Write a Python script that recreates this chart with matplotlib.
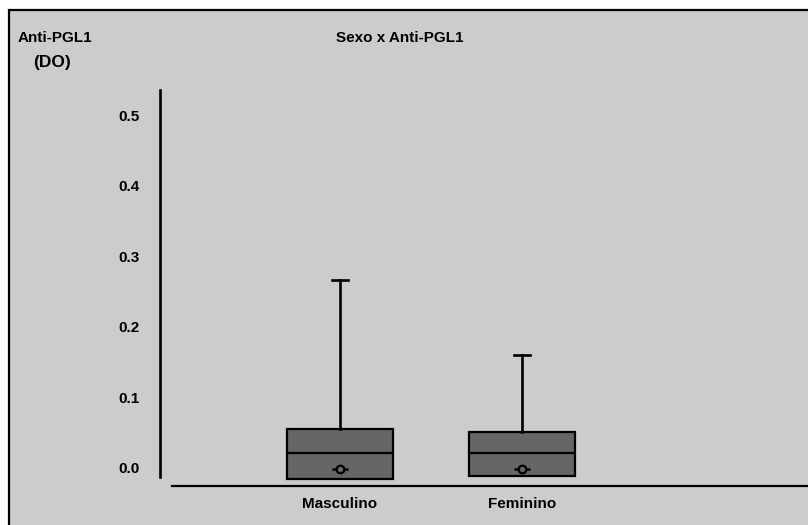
import matplotlib.pyplot as plt
from matplotlib.patches import Rectangle

# --------------------------------------------------
# DATA
# --------------------------------------------------
categories = ["Masculino", "Feminino"]
q1_vals = [-0.0168, -0.0121]
median_vals = [0.0202, 0.0210]
q3_vals = [0.0547, 0.0500]
whishi_vals = [0.266, 0.160]
mean_vals = [-0.002, -0.002]
y_ticks = [0.0, 0.1, 0.2, 0.3, 0.4, 0.5]
y_ticklabels = ["0.0", "0.1", "0.2", "0.3", "0.4", "0.5"]

BG = "#cccccc"
BOX = "#666666"
FONT = "Liberation Sans"
FS = 11

# --------------------------------------------------
# FIGURE
# --------------------------------------------------
W, H = 808, 525
fig = plt.figure(figsize=(W / 100, H / 100), dpi=100, facecolor="white")

# grey panel with black top/left border (image is cropped on right/bottom)
fig.patches.append(Rectangle((9 / W, -0.1), 1.1, (H - 10) / H + 0.1,
                             transform=fig.transFigure, facecolor=BG,
                             edgecolor="black", lw=1.6, zorder=-5))

# axes placed in pixel units
left, right, bottom, top = 160, 808, 486, 90
ax = fig.add_axes([left / W, (H - bottom) / H, (right - left) / W, (bottom - top) / H])
ax.set_facecolor("none")
ax.set_zorder(2)

positions = [1, 2]
stats = []
for name, lo, med, hi, whi in zip(categories, q1_vals, median_vals, q3_vals, whishi_vals):
    stats.append(dict(label=name, q1=lo, med=med, q3=hi, whislo=lo, whishi=whi, fliers=[]))

bp = ax.bxp(stats, positions=positions, widths=0.582, capwidths=0.088,
            patch_artist=True, showfliers=False,
            boxprops=dict(facecolor=BOX, edgecolor="black", lw=1.6),
            medianprops=dict(color="black", lw=1.6),
            whiskerprops=dict(color="black", lw=1.9),
            capprops=dict(color="black", lw=1.9))
# only the upper whisker/cap is drawn in the original
for art in bp["caps"][0::2] + bp["whiskers"][0::2]:
    art.set_visible(False)

# mean markers: short dash with a ring
ax.plot(positions, mean_vals, ls="none", marker="_", ms=11, mew=1.8, color="black", zorder=5)
ax.plot(positions, mean_vals, ls="none", marker="o", ms=5.5, mew=1.6,
        mfc=BOX, mec="black", zorder=6)

# --------------------------------------------------
# AXES STYLING
# --------------------------------------------------
ax.set_xlim(0.011, 3.571)
ax.set_ylim(-0.0263, 0.536)
ax.spines["top"].set_visible(False)
ax.spines["right"].set_visible(False)
ax.spines["left"].set_linewidth(1.9)
ax.spines["bottom"].set_linewidth(1.6)
ax.spines["left"].set_bounds(-0.0135, 0.536)
ax.spines["bottom"].set_bounds(0.077, 3.571)

ax.set_yticks(y_ticks)
ax.set_yticklabels(y_ticklabels, fontfamily=FONT, fontweight="bold", fontsize=FS)
ax.set_xticks(positions)
ax.set_xticklabels(categories, fontfamily=FONT, fontweight="bold", fontsize=FS)
ax.tick_params(axis="y", length=0, pad=15)
ax.tick_params(axis="x", length=0, pad=8)

# titles
fig.text(400 / W, 1 - 38 / H, "Sexo x Anti-PGL1", ha="center", va="center",
         fontfamily=FONT, fontweight="bold", fontsize=FS)
fig.text(18 / W, 1 - 38 / H, "Anti-PGL1", ha="left", va="center",
         fontfamily=FONT, fontweight="bold", fontsize=FS)
fig.text(33 / W, 1 - 63 / H, "(DO)", ha="left", va="center",
         fontfamily=FONT, fontweight="bold", fontsize=12.5)

fig.savefig("out.png", dpi=100, facecolor=fig.get_facecolor())
